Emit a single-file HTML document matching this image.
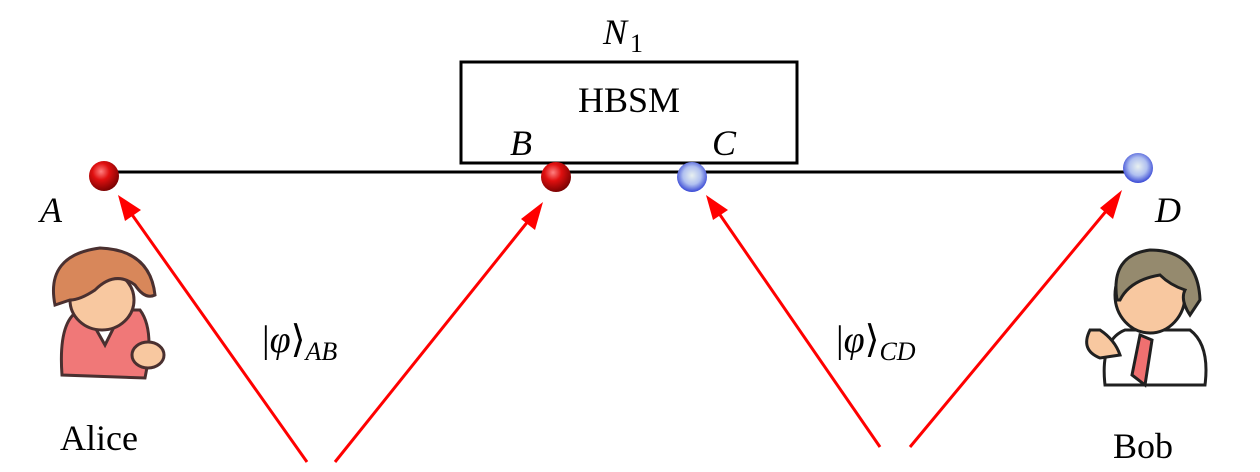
<!DOCTYPE html>
<html><head><style>body{margin:0;background:#fff}svg{display:block}text{font-family:"Liberation Serif",serif;fill:#000}</style></head>
<body>
<svg width="1260" height="472" viewBox="0 0 1260 472" xmlns="http://www.w3.org/2000/svg">
<defs>
<radialGradient id="rd" cx="0.4" cy="0.35" r="0.7"><stop offset="0" stop-color="#ff8080"/><stop offset="0.4" stop-color="#e01010"/><stop offset="1" stop-color="#700000"/></radialGradient>
<radialGradient id="bl" cx="0.5" cy="0.45" r="0.6"><stop offset="0" stop-color="#e8f0f0"/><stop offset="0.5" stop-color="#b0c0f0"/><stop offset="1" stop-color="#2030d0"/></radialGradient>
</defs>
<rect x="461" y="62" width="336" height="101" fill="none" stroke="#000" stroke-width="3"/>
<text x="629" y="112" font-size="36" text-anchor="middle">HBSM</text>
<text x="603" y="44" font-size="36" font-style="italic">N</text><text x="630" y="52" font-size="26">1</text>
<line x1="105" y1="172" x2="1138" y2="172" stroke="#000" stroke-width="3"/>
<g stroke="#f00" stroke-width="3" fill="none">
<line x1="307" y1="462" x2="128" y2="209"/><line x1="335" y1="462" x2="533" y2="215"/>
<line x1="880" y1="447" x2="716" y2="209"/><line x1="910" y1="447" x2="1112" y2="204"/>
</g>
<g fill="#f00">
<path d="M118,195 L141,210 L125,221 Z"/>
<path d="M543,202 L535,230 L521,219 Z"/>
<path d="M706,195 L728,210 L713,220 Z"/>
<path d="M1122,190 L1113,219 L1100,208 Z"/>
</g>
<circle cx="104" cy="176" r="15" fill="url(#rd)"/>
<circle cx="556" cy="177" r="15" fill="url(#rd)"/>
<circle cx="692" cy="177" r="15" fill="url(#bl)"/>
<circle cx="1138" cy="168" r="15" fill="url(#bl)"/>
<g font-size="36" font-style="italic">
<text x="40" y="222">A</text><text x="510" y="155">B</text><text x="712" y="155">C</text><text x="1155" y="222">D</text>
</g>
<text x="262" y="352" font-size="38">|<tspan font-style="italic">φ</tspan>⟩<tspan font-size="26" dy="8" font-style="italic">AB</tspan></text>
<text x="836" y="352" font-size="38">|<tspan font-style="italic">φ</tspan>⟩<tspan font-size="26" dy="8" font-style="italic">CD</tspan></text>
<text x="60" y="450" font-size="36">Alice</text>
<text x="1113" y="458" font-size="36">Bob</text>
<!-- Alice -->
<g stroke="#4a3030" stroke-width="3">
<path d="M62,375 Q58,320 80,310 L140,310 Q155,330 145,378 Z" fill="#f07878"/>
<path d="M88,315 L105,345 L120,315 Z" fill="#fff"/>
<ellipse cx="102" cy="300" rx="32" ry="30" fill="#f8c8a0"/>
<path d="M55,305 Q45,255 100,248 Q150,250 155,295 Q145,300 135,285 Q115,270 95,290 Q80,300 70,300 Z" fill="#d8875a"/>
<ellipse cx="148" cy="355" rx="16" ry="13" fill="#f8c8a0"/>
</g>
<!-- Bob -->
<g stroke="#202020" stroke-width="3">
<path d="M1105,385 Q1100,340 1125,330 L1190,330 Q1210,345 1205,385 Z" fill="#fff"/>
<path d="M1140,335 L1132,375 L1145,385 L1152,340 Z" fill="#f07070"/>
<ellipse cx="1150" cy="295" rx="35" ry="38" fill="#f8c8a0"/>
<path d="M1117,300 Q1110,255 1150,250 Q1198,250 1200,300 L1190,315 Q1180,300 1185,290 Q1170,285 1160,275 Q1130,280 1120,300 Z" fill="#958a6e"/>
<path d="M1090,330 Q1080,350 1100,358 L1120,355 Q1115,340 1100,330 Z" fill="#f8c8a0"/>
</g>
</svg>
</body></html>
